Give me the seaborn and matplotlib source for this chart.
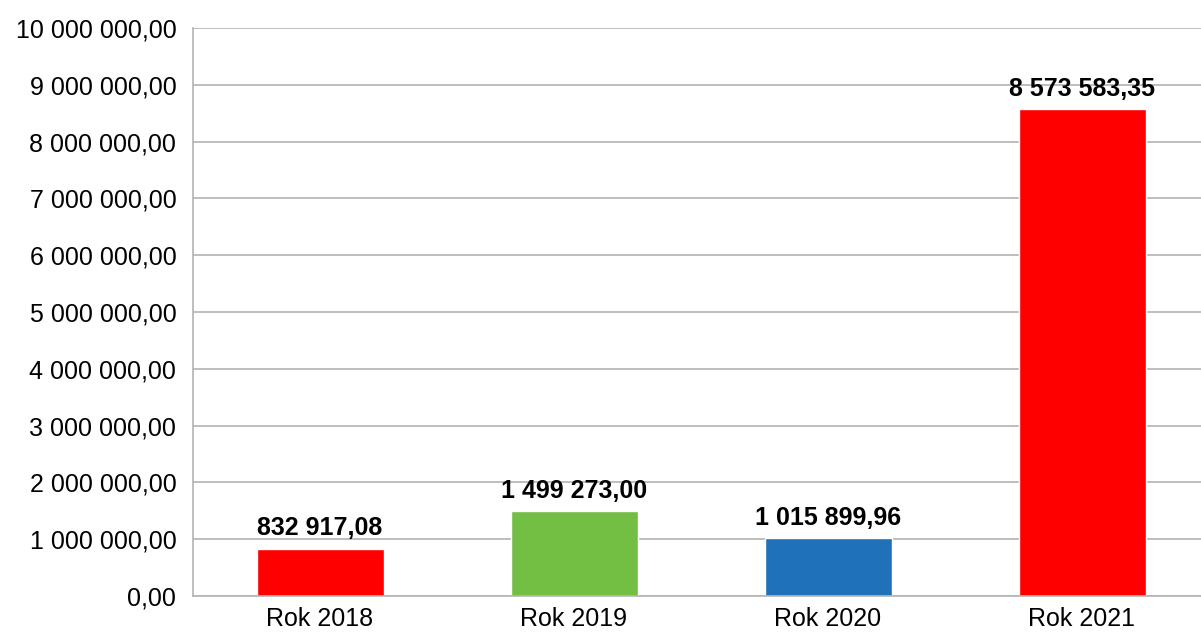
import matplotlib
matplotlib.use('Agg')
import matplotlib.pyplot as plt
import seaborn as sns
import pandas as pd
from matplotlib.ticker import FuncFormatter, FixedLocator

years = ['Rok 2018', 'Rok 2019', 'Rok 2020', 'Rok 2021']
values = [832917.08, 1499273.00, 1015899.96, 8573583.35]
colors = ['#ff0000', '#72bf44', '#1f72b8', '#ff0000']

df = pd.DataFrame({'year': years, 'value': values})


def pl_fmt(v, pos=None):
    s = f'{v:,.2f}'
    return s.replace(',', ' ').replace('.', ',')


sns.set_style('white')
plt.rcParams['font.family'] = ['Liberation Sans', 'DejaVu Sans']
plt.rcParams['text.color'] = 'black'
plt.rcParams['xtick.labelcolor'] = 'black'
plt.rcParams['ytick.labelcolor'] = 'black'

fig = plt.figure(figsize=(12.01, 6.42), dpi=100)
ax = fig.add_axes([193 / 1201, 1 - 596 / 642, 1016 / 1201, 568 / 642])

sns.barplot(data=df, x='year', y='value', hue='year', palette=colors,
            width=0.5, legend=False, ax=ax, saturation=1)

ax.set_xlim(-0.5, 3.5)
ax.set_ylim(0, 10_000_000)
ax.yaxis.set_major_locator(FixedLocator([i * 1_000_000 for i in range(11)]))
ax.yaxis.set_major_formatter(FuncFormatter(pl_fmt))
ax.grid(axis='y', color='#b3b3b3', linewidth=1.2)
ax.set_axisbelow(True)

for sp in ['top', 'right']:
    ax.spines[sp].set_visible(False)
for sp in ['left', 'bottom']:
    ax.spines[sp].set_color('#b3b3b3')
    ax.spines[sp].set_linewidth(1.2)

ax.tick_params(axis='y', length=10, color='#b3b3b3', width=1.2, labelsize=18,
               pad=2, labelcolor='black')
ax.tick_params(axis='x', which='major', length=0, labelsize=18, pad=8,
               labelcolor='black')
ax.set_xticks([-0.5, 0.5, 1.5, 2.5, 3.5], minor=True)
ax.tick_params(axis='x', which='minor', length=10, color='#b3b3b3', width=1.2)
ax.set_xlabel('')
ax.set_ylabel('')

for c in ax.containers:
    ax.bar_label(c, labels=[pl_fmt(v) for v in c.datavalues], padding=6,
                 fontsize=18, fontweight='bold', color='black')

fig.savefig('out.png', dpi=100)
